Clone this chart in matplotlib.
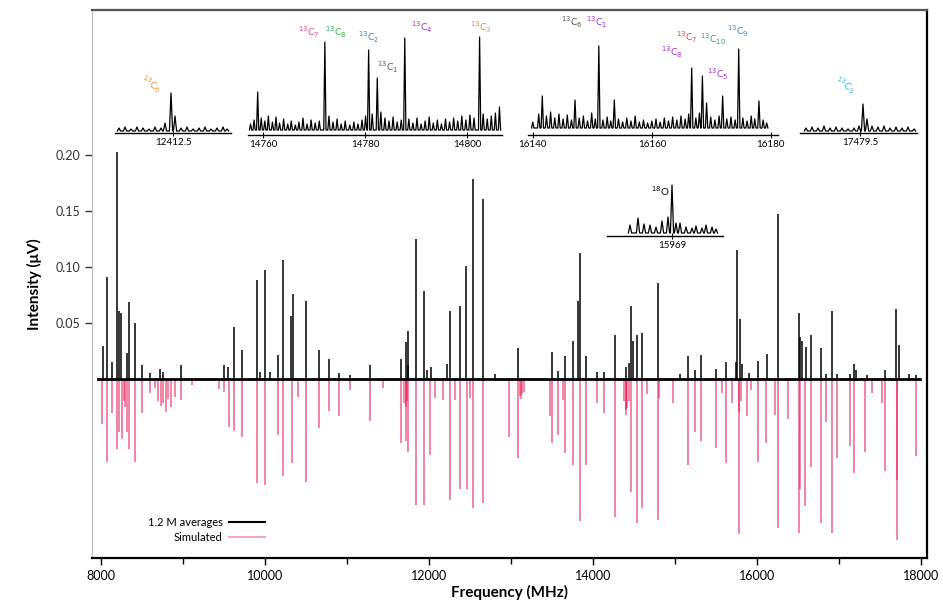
import numpy as np
import matplotlib
matplotlib.use('Agg')
import matplotlib.pyplot as plt

plt.rcParams['font.family'] = ['Lato', 'DejaVu Sans']
plt.rcParams['mathtext.fontset'] = 'dejavusans'

# experimental stick spectrum (MHz, uV)
exp_freq = [8028, 8070, 8130, 8191, 8220, 8244, 8321, 8345, 8415, 8496, 8598, 8720, 8760, 8976,
            9504, 9553, 9627, 9724, 9899, 9940, 10001, 10062, 10156, 10224, 10318, 10346, 10497,
            10660, 10786, 10908, 11038, 11282, 11656, 11721, 11740, 11749, 11843, 11941, 11973, 12022,
            12218, 12250, 12380, 12453, 12535, 12657, 12807, 13091,
            13499, 13567, 13661, 13755, 13811, 13844, 13917, 14047, 14128, 14271, 14405, 14433,
            14466, 14487, 14536, 14596, 14787, 15064, 15157, 15238, 15316,
            15503, 15625, 15747, 15755, 15787, 15816, 15897, 16007, 16121, 16255, 16507, 16528,
            16548, 16601, 16657, 16779, 16844, 16913, 16974, 17128, 17187, 17210, 17341, 17565,
            17699, 17727, 17850, 17944]
exp_int = [0.029, 0.091, 0.015, 0.202, 0.060, 0.059, 0.023, 0.068, 0.050, 0.012, 0.005, 0.009, 0.006, 0.012,
           0.012, 0.010, 0.046, 0.026, 0.088, 0.006, 0.097, 0.006, 0.021, 0.106, 0.056, 0.076, 0.069,
           0.026, 0.018, 0.005, 0.003, 0.012, 0.018, 0.033, 0.012, 0.043, 0.125, 0.078, 0.008, 0.010,
           0.013, 0.060, 0.065, 0.101, 0.178, 0.160, 0.004, 0.027,
           0.024, 0.007, 0.020, 0.034, 0.069, 0.112, 0.020, 0.006, 0.006, 0.039, 0.010, 0.014,
           0.065, 0.034, 0.039, 0.041, 0.085, 0.004, 0.020, 0.008, 0.021,
           0.009, 0.015, 0.015, 0.115, 0.053, 0.013, 0.005, 0.016, 0.022, 0.147, 0.059, 0.037,
           0.034, 0.028, 0.039, 0.027, 0.004, 0.060, 0.004, 0.004, 0.013, 0.008, 0.003, 0.008,
           0.062, 0.030, 0.004, 0.003]
scan_range = [7960, 17985]

# simulated stick spectrum (plotted inverted)
sim_freq = [8016, 8070, 8130, 8191, 8220, 8260, 8280, 8295, 8321, 8345, 8415, 8496, 8598, 8660,
            8700, 8730, 8760, 8790, 8820, 8850, 8900, 8976, 9107, 9434, 9500, 9565, 9627, 9724,
            9899, 10001, 10156, 10224, 10326, 10407, 10497,
            10660, 10786, 10908, 11038, 11282, 11444, 11656, 11700, 11715, 11721, 11735, 11749,
            11843, 11941, 12014, 12067, 12169, 12250, 12311, 12380, 12461, 12502, 12535, 12657,
            12970, 13091, 13110, 13125, 13140, 13155,
            13479, 13499, 13567, 13632, 13661, 13755, 13844, 13917, 14047, 14128, 14271,
            14380, 14400, 14405, 14420, 14440, 14466, 14536, 14596, 14657, 14787, 14799, 14974,
            15157, 15247, 15316, 15503, 15569, 15625, 15694, 15775, 15785, 15800, 15877, 15926,
            16007, 16113, 16223, 16255, 16373, 16507, 16528, 16589, 16657, 16779, 16844, 16913,
            16974, 17128, 17187, 17321, 17402, 17524, 17565, 17707, 17707, 17944]
sim_int = [-0.040, -0.074, -0.031, -0.063, -0.048, -0.054, -0.020, -0.025, -0.048, -0.063, -0.074, -0.031, -0.013, -0.008,
           -0.020, -0.024, -0.022, -0.030, -0.018, -0.025, -0.016, -0.019, -0.006, -0.009, -0.012, -0.043, -0.047, -0.052,
           -0.093, -0.095, -0.050, -0.087, -0.075, -0.016, -0.092,
           -0.044, -0.029, -0.033, -0.010, -0.038, -0.008, -0.057, -0.022, -0.025, -0.056, -0.020, -0.065,
           -0.113, -0.113, -0.068, -0.017, -0.019, -0.108, -0.019, -0.098, -0.098, -0.017, -0.115, -0.111,
           -0.052, -0.071, -0.015, -0.018, -0.014, -0.012,
           -0.033, -0.057, -0.050, -0.019, -0.066, -0.077, -0.127, -0.077, -0.022, -0.031, -0.123,
           -0.020, -0.028, -0.032, -0.026, -0.020, -0.101, -0.129, -0.115, -0.014, -0.126, -0.017, -0.022,
           -0.077, -0.048, -0.056, -0.062, -0.013, -0.075, -0.022, -0.139, -0.030, -0.020, -0.033, -0.010,
           -0.074, -0.057, -0.032, -0.133, -0.036, -0.138, -0.098, -0.114, -0.079, -0.129, -0.039, -0.138,
           -0.071, -0.060, -0.084, -0.065, -0.013, -0.022, -0.082, -0.090, -0.144, -0.069]

x_ticks = [8000, 10000, 12000, 14000, 16000, 18000]
y_ticks = [0.05, 0.10, 0.15, 0.20]

# zoomed insets: stick positions (MHz) and heights (arb.)
in1_freq = [12409.8, 12410.1, 12410.4, 12410.7, 12411.0, 12411.3, 12411.6, 12411.9, 12412.1, 12412.4,
            12412.6, 12412.9, 12413.2, 12413.5, 12413.8, 12414.1, 12414.4, 12414.7, 12415.0, 12415.2]
in1_int = [3, 4, 2, 4, 3, 2, 4, 3, 8, 38, 15, 3, 4, 2, 3, 4, 2, 3, 4, 2]

in2_freq = [14757.5, 14758.2, 14758.9, 14759.6, 14760.3, 14761.0, 14761.8, 14762.5, 14763.2, 14764.0,
            14764.8, 14765.5, 14766.3, 14767.0, 14767.8, 14768.6, 14769.4, 14770.2, 14771.0, 14772.1,
            14772.9, 14773.7, 14774.5, 14775.3, 14776.1, 14777.0, 14777.8, 14778.6, 14779.4, 14780.1,
            14780.7, 14781.4, 14782.4, 14783.1, 14783.9, 14784.7, 14785.5, 14786.3, 14787.1, 14787.8,
            14788.6, 14789.4, 14790.2, 14791.0, 14791.8, 14792.6, 14793.4, 14794.2, 14795.0, 14795.8,
            14796.6, 14797.4, 14798.2, 14799.0, 14799.8, 14800.6, 14801.4, 14802.5, 14803.2, 14804.0,
            14804.8, 14805.6, 14806.4]
in2_int = [6, 10, 38, 12, 9, 14, 8, 13, 7, 11, 6, 9, 5, 8, 12, 6, 10, 7, 9, 88,
           14, 8, 11, 6, 9, 5, 8, 6, 10, 14, 80, 16, 52, 18, 12, 9, 13, 8, 10, 92,
           11, 7, 12, 6, 9, 13, 7, 10, 6, 11, 8, 12, 9, 14, 10, 15, 12, 93, 16, 11,
           14, 17, 23]

in3_freq = [16140.0, 16141.0, 16141.6, 16142.3, 16143.0, 16143.7, 16144.4, 16145.1, 16145.8, 16146.5,
            16147.1, 16147.8, 16148.5, 16149.2, 16149.9, 16150.5, 16151.1, 16151.8, 16152.5, 16153.1,
            16153.7, 16154.4, 16155.1, 16155.8, 16156.5, 16157.2, 16157.9, 16158.6, 16159.3, 16160.0,
            16160.7, 16161.4, 16162.1, 16162.8, 16163.5, 16164.2, 16164.9, 16165.6, 16166.2, 16166.7,
            16167.4, 16168.0, 16168.5, 16169.2, 16169.9, 16170.6, 16171.3, 16171.9, 16172.6, 16173.3,
            16174.0, 16174.6, 16175.3, 16176.0, 16176.7, 16177.3, 16178.0, 16178.7, 16179.3]
in3_int = [6, 14, 32, 12, 16, 10, 14, 9, 13, 8, 28, 10, 12, 7, 15, 9, 82, 8, 11, 7,
           28, 9, 6, 10, 7, 12, 6, 8, 5, 7, 9, 6, 10, 7, 11, 8, 12, 9, 14, 60,
           10, 15, 52, 25, 11, 8, 12, 32, 9, 11, 8, 79, 10, 7, 12, 9, 27, 8, 5]

in4_freq = [17476.8, 17477.1, 17477.4, 17477.7, 17478.0, 17478.3, 17478.6, 17478.9, 17479.2, 17479.45,
            17479.65, 17479.85, 17480.1, 17480.4, 17480.7, 17481.0, 17481.3, 17481.6, 17481.9, 17482.2]
in4_int = [3, 4, 3, 5, 3, 4, 3, 2, 3, 5, 27, 12, 5, 4, 5, 3, 4, 3, 4, 2]

in5_freq = [15966.9, 15967.3, 15967.6, 15967.9, 15968.2, 15968.5, 15968.8, 15969.0, 15969.2, 15969.4,
            15969.7, 15970.0, 15970.2, 15970.5, 15970.7, 15971.0, 15971.2]
in5_int = [8, 15, 9, 8, 6, 12, 16, 48, 10, 10, 6, 5, 7, 5, 8, 6, 4]

W, H = 943, 615
fig = plt.figure(figsize=(W / 100, H / 100), dpi=100)


def px_axes(x0, x1, ybot, ytop):
    return fig.add_axes([x0 / W, (H - ybot) / H, (x1 - x0) / W, (ybot - ytop) / H])


ax = px_axes(92, 927, 558, 10)
sim_col = '#e3134d'
ax.vlines(sim_freq, 0, sim_int, color=sim_col, alpha=0.55, lw=1.3)
ax.vlines(exp_freq, 0, exp_int, color='black', lw=1.1)
ax.plot(scan_range, [0, 0], color='black', lw=2)

ax.set_xlim(7890, 18073)
ax.set_ylim(-0.160, 0.329)
ax.set_xticks(x_ticks)
ax.set_xticks([9000, 11000, 13000, 15000, 17000], minor=True)
ax.set_yticks(y_ticks)
ax.set_yticklabels(['%.2f' % v for v in y_ticks])
ax.tick_params(axis='both', labelsize=9, direction='out', length=5, width=1)
ax.tick_params(axis='x', which='minor', direction='out', length=4, width=1)
ax.tick_params(axis='y', colors='#333333', length=5)
ax.set_xlabel('Frequency (MHz)', fontsize=11, fontweight='bold', labelpad=2)
ax.set_ylabel('Intensity (μV)', fontsize=11, fontweight='bold', labelpad=10)
ax.spines['left'].set_color('#bbbbbb')
ax.spines['left'].set_linewidth(0.8)
ax.spines['bottom'].set_linewidth(1.6)
ax.spines['right'].set_linewidth(1.6)
ax.spines['top'].set_linewidth(1.6)
ax.spines['top'].set_color('#555555')

ax.plot([], [], color='black', lw=1.5, label='1.2 M averages')
ax.plot([], [], color='#f4a6c0', lw=1.5, label='Simulated')
ax.legend(loc='lower left', bbox_to_anchor=(0.055, 0.01), frameon=False, markerfirst=False,
          fontsize=8, handlelength=3.2, handletextpad=0.6, labelspacing=0.3)


def draw_inset(box, freq, inten, xlim, ticks, ticklabels, base, ylim, w):
    a = px_axes(*box)
    xs, ys = [], []
    for f, h in zip(freq, inten):
        xs += [f - w, f, f + w]
        ys += [base, base + h, base]
    a.plot(xs, ys, color='black', lw=0.9)
    a.set_xlim(*xlim)
    a.set_ylim(0, ylim)
    a.patch.set_alpha(0)
    for s in ['left', 'right', 'top']:
        a.spines[s].set_visible(False)
    a.spines['bottom'].set_linewidth(1.0)
    a.set_yticks([])
    a.set_xticks(ticks)
    a.set_xticklabels(ticklabels)
    a.tick_params(axis='x', direction='inout', length=5, labelsize=7, pad=1)
    return a


orange, pink, green, blue = '#f08a24', '#e8457a', '#2fa84f', '#2f86d6'
gray, purple, red, cyan = '#555555', '#9b30d9', '#e8404a', '#27b5d9'

a1 = draw_inset((115, 231, 133, 13), in1_freq, in1_int, (12409.6, 12415.4), [12412.5], ['12412.5'], 2, 120, 0.08)
a1.text(12411.4, 41, r'$^{13}$C$_6$', color=orange, fontsize=7, ha='center', rotation=-25)

a2 = draw_inset((248, 502, 135, 15), in2_freq, in2_int, (14757.0, 14806.9), [14760, 14780, 14800],
                ['14760', '14780', '14800'], 5, 120, 0.22)
for fx, fy, lab, c in [(14768.9, 99, r'$^{13}$C$_7$', pink), (14774.3, 99, r'$^{13}$C$_8$', green),
                       (14780.6, 94, r'$^{13}$C$_2$', blue), (14784.4, 64, r'$^{13}$C$_1$', gray),
                       (14791.1, 104, r'$^{13}$C$_4$', purple), (14802.8, 104, r'$^{13}$C$_3$', orange)]:
    a2.text(fx, fy, lab, color=c, fontsize=7, ha='center')

a3 = draw_inset((528, 778, 135, 15), in3_freq, in3_int, (16139.2, 16181.2), [16140, 16160, 16180],
                ['16140', '16160', '16180'], 7, 120, 0.2)
for fx, fy, lab, c in [(16146.6, 109, r'$^{13}$C$_6$', gray), (16150.7, 109, r'$^{13}$C$_1$', purple),
                       (16163.4, 79, r'$^{13}$C$_8$', purple), (16165.8, 94, r'$^{13}$C$_7$', red),
                       (16170.2, 92, r'$^{13}$C$_{10}$', green), (16171.0, 57, r'$^{13}$C$_5$', purple),
                       (16174.4, 100, r'$^{13}$C$_9$', blue)]:
    a3.text(fx, fy, lab, color=c, fontsize=7, ha='center')

a4 = draw_inset((800, 917, 133, 13), in4_freq, in4_int, (17476.5, 17482.35), [17479.5], ['17479.5'], 2, 120, 0.08)
a4.text(17478.75, 40, r'$^{13}$C$_3$', color=cyan, fontsize=7, ha='center', rotation=-25)

a5 = draw_inset((607, 723, 236, 175), in5_freq, in5_int, (15965.75, 15971.55), [15969], ['15969'], 3, 61, 0.08)
a5.text(15968.4, 40, r'$^{18}$O', color='black', fontsize=7, ha='center')

fig.savefig('out.png', dpi=100)
